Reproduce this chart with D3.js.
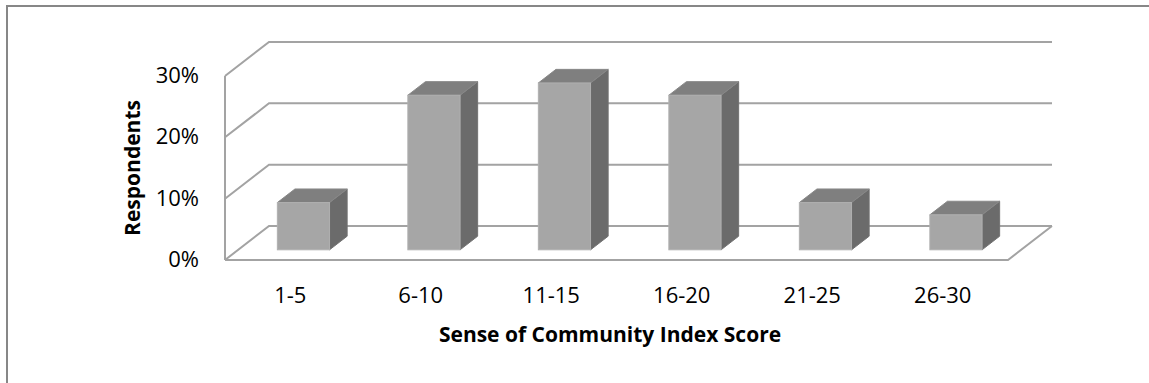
<!DOCTYPE html>
<html>
<head>
<meta charset="utf-8">
<script src="https://cdn.jsdelivr.net/npm/d3@7/dist/d3.min.js"></script>
<style>
  html, body { margin: 0; padding: 0; background: #fff; }
  text { font-family: "Open Sans", "Liberation Sans", sans-serif; fill: #000; }
</style>
</head>
<body>
<div id="chart"></div>
<script>
const categories = ["1-5", "6-10", "11-15", "16-20", "21-25", "26-30"];
const shares = [0.077, 0.252, 0.272, 0.252, 0.077, 0.057];
const yTicks = [0, 0.1, 0.2, 0.3];

const width = 1149, height = 383;
const depthX = 44, depthY = -34;   // full floor depth
const barZ0 = 0.3, barZ1 = 0.7;    // bar front/back depth fraction

const svg = d3.select("#chart").append("svg")
    .attr("width", width)
    .attr("height", height);

// outer frame (only top and left edges fall inside the picture)
svg.append("path")
    .attr("d", `M7,${height} L7,6 L${width},6`)
    .attr("fill", "none")
    .attr("stroke", "#878787")
    .attr("stroke-width", 2);

const x = d3.scaleBand().domain(categories).range([225, 1008]).paddingInner(0).paddingOuter(0);
const y = d3.scaleLinear().domain([0, 0.3]).range([260, 76]);

const gridColor = "#a3a3a3";
const wall = svg.append("g").attr("fill", "none").attr("stroke", gridColor).attr("stroke-width", 2);

// back wall gridlines + left wall diagonals
yTicks.forEach(t => {
    const yf = y(t);
    const yb = yf + depthY;
    wall.append("path")
        .attr("d", `M${x.range()[0]},${yf} L${x.range()[0] + depthX},${yb} L${x.range()[1] + depthX},${yb}`);
});
// left wall front edge
wall.append("line")
    .attr("x1", x.range()[0]).attr("x2", x.range()[0])
    .attr("y1", y(0)).attr("y2", y(0.3));
// floor outline
wall.append("path")
    .attr("d", `M${x.range()[0]},${y(0)} L${x.range()[1]},${y(0)} L${x.range()[1] + depthX},${y(0) + depthY}`);

// bars
const barW = x.bandwidth() * 0.4;
const pad = (x.bandwidth() - barW) / 2;
const bx = d => x(d.cat) + pad + barZ0 * depthX;
const by = v => y(v) + barZ0 * depthY;
const ddx = (barZ1 - barZ0) * depthX, ddy = (barZ1 - barZ0) * depthY;

const data = categories.map((c, i) => ({ cat: c, v: shares[i] }));
const bars = svg.append("g").selectAll("g").data(data).enter().append("g");

bars.append("path")   // side face
    .attr("d", d => {
        const x1 = bx(d) + barW, yt = by(d.v), yb = by(0);
        return `M${x1},${yt} L${x1 + ddx},${yt + ddy} L${x1 + ddx},${yb + ddy} L${x1},${yb} Z`;
    })
    .attr("fill", "#6b6b6b")
    .attr("stroke", "#737373").attr("stroke-width", 1);

bars.append("path")   // top face
    .attr("d", d => {
        const x0 = bx(d), yt = by(d.v);
        return `M${x0},${yt} L${x0 + ddx},${yt + ddy} L${x0 + barW + ddx},${yt + ddy} L${x0 + barW},${yt} Z`;
    })
    .attr("fill", "#7f7f7f")
    .attr("stroke", "#888").attr("stroke-width", 1);

bars.append("rect")   // front face
    .attr("x", d => bx(d))
    .attr("y", d => by(d.v))
    .attr("width", barW)
    .attr("height", d => by(0) - by(d.v))
    .attr("fill", "#a6a6a6")
    .attr("stroke", "#b0b0b0").attr("stroke-width", 1);

// y tick labels
svg.append("g").selectAll("text").data(yTicks).enter().append("text")
    .text(d3.format(".0%"))
    .attr("x", 199)
    .attr("y", d => y(d) + 1)
    .attr("text-anchor", "end")
    .attr("dominant-baseline", "middle")
    .style("font-size", "22px");

// x tick labels
svg.append("g").selectAll("text").data(categories).enter().append("text")
    .text(d => d)
    .attr("x", d => x(d) + x.bandwidth() / 2)
    .attr("y", 303)
    .attr("text-anchor", "middle")
    .style("font-size", "22px");

// axis titles
svg.append("text")
    .text("Sense of Community Index Score")
    .attr("x", 610)
    .attr("y", 342)
    .attr("text-anchor", "middle")
    .style("font-size", "21px")
    .style("font-weight", "bold");

svg.append("text")
    .text("Respondents")
    .attr("transform", "translate(140,168) rotate(-90)")
    .attr("text-anchor", "middle")
    .style("font-size", "21px")
    .style("font-weight", "bold");
</script>
</body>
</html>
